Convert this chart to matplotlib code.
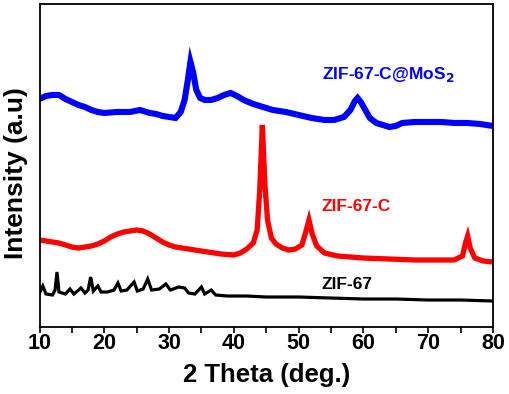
import matplotlib
matplotlib.use("Agg")
import matplotlib.pyplot as plt
from matplotlib.ticker import MultipleLocator

plt.rcParams['font.family'] = ['Liberation Sans', 'DejaVu Sans']
plt.rcParams['font.weight'] = 'bold'

# ZIF-67-C@MoS2 (blue)
mos2_x = [10, 11, 12, 13, 14, 15, 16, 17, 18, 19, 20, 22, 24, 25.5, 27, 28, 29, 30, 31,
          31.8, 32.4, 32.9, 33.3, 33.7, 34.2, 34.8, 35.5, 36.5, 37.5, 38.5, 39.5, 40.5,
          41.5, 43, 44.5, 46, 48, 50, 52, 54, 55.5, 57, 58, 58.7, 59.1, 59.6, 60.3, 61,
          62, 63, 64, 65, 66, 68, 70, 72, 74, 76, 78, 80]
mos2_y = [228, 231, 232, 232, 228, 225, 222, 220, 217, 215, 214, 215, 215, 217, 214, 213,
          211, 210, 209, 215, 227, 247, 265, 255, 237, 229, 227, 227, 229, 232, 234, 231,
          227, 223, 220, 217, 215, 212, 209, 207, 207, 210, 217, 226, 229, 225, 217, 209,
          204, 202, 200, 201, 204, 205, 205, 205, 204, 204, 203, 201]

# ZIF-67-C (red)
zc_x = [10, 11, 12, 13, 14, 15, 16, 17, 18, 19, 20, 21, 22, 23, 24, 25, 26, 27, 28, 29,
        30, 31, 32, 34, 36, 38, 40, 41, 42, 43, 43.6, 44.0, 44.4, 44.8, 45.2, 45.8, 46.5,
        47.5, 48.5, 49.5, 50.5, 51.1, 51.6, 52.1, 52.8, 54, 56, 58, 60, 64, 68, 72, 74,
        75.3, 75.8, 76.1, 76.5, 77.2, 78.5, 80]
zc_y = [87, 86, 85, 84, 82, 80, 79, 80, 81, 83, 86, 90, 93, 95, 96, 97, 96, 93, 89, 85,
        82, 80, 79, 77, 75, 73, 72, 74, 78, 84, 97, 137, 202, 142, 107, 89, 83,
        79, 77, 78, 82, 95, 107, 93, 81, 74, 71, 70, 69, 68, 67, 67, 67,
        71, 85, 91, 79, 69, 66, 65]

# ZIF-67 (black)
z67_x = [10, 10.5, 11, 12, 12.4, 12.7, 13.0, 14, 14.7, 15.3, 16.4, 17, 17.5, 17.9, 18.3,
         19.0, 19.5, 20.5, 21.5, 22.1, 22.6, 23.5, 24.6, 25.1, 26, 26.7, 27.3, 28.5, 29.5,
         30.2, 31.5, 32.4, 33, 34, 35.0, 35.5, 36.5, 37.2, 39, 42, 45, 50, 55, 60, 65,
         70, 75, 80]
z67_y = [34, 41, 33, 32, 37, 55, 35, 33, 38, 33, 39, 34, 37, 50, 36,
         41, 35, 35, 37, 44, 36, 37, 45, 36, 38, 48, 37, 38, 43,
         37, 40, 39, 34, 33, 40, 33, 37, 32, 31, 31, 30, 30, 29, 28, 28,
         27, 27, 26]

fig = plt.figure(figsize=(5.10, 3.94), dpi=100)
ax = fig.add_axes([0.0775, 0.170, 0.889, 0.820])

ax.plot(mos2_x, mos2_y, color='#0000ff', lw=4.4, solid_joinstyle='miter')
ax.plot(zc_x, zc_y, color='#ff0000', lw=3.8, solid_joinstyle='miter')
ax.plot(z67_x, z67_y, color='black', lw=2.3, solid_joinstyle='miter')

ax.text(53.6, 252, 'ZIF-67-C@MoS$_\\mathbf{2}$', color='#0000ff', fontsize=12.5,
        fontweight='bold', ha='left', va='center')
ax.text(53.6, 120, 'ZIF-67-C', color='#ff0000', fontsize=12.5,
        fontweight='bold', ha='left', va='center')
ax.text(53.6, 43, 'ZIF-67', color='black', fontsize=12.5,
        fontweight='bold', ha='left', va='center')

ax.set_xlim(10, 80)
ax.set_ylim(0, 323)
ax.xaxis.set_major_locator(MultipleLocator(10))
ax.xaxis.set_minor_locator(MultipleLocator(5))
ax.set_yticks([])
ax.tick_params(axis='x', which='major', direction='out', length=4, width=1.2,
               labelsize=15.5, pad=0.5)
ax.tick_params(axis='x', which='minor', direction='out', length=4, width=1.2)
for lab in ax.get_xticklabels():
    lab.set_fontweight('bold')
for s in ax.spines.values():
    s.set_linewidth(1.3)

ax.set_xlabel('2 Theta (deg.)', fontsize=18.5, fontweight='bold', labelpad=6)
ax.set_ylabel('Intensity (a.u)', fontsize=19, fontweight='bold')
ax.yaxis.set_label_coords(-0.025, 0.475)

fig.savefig('out.png', dpi=100)
